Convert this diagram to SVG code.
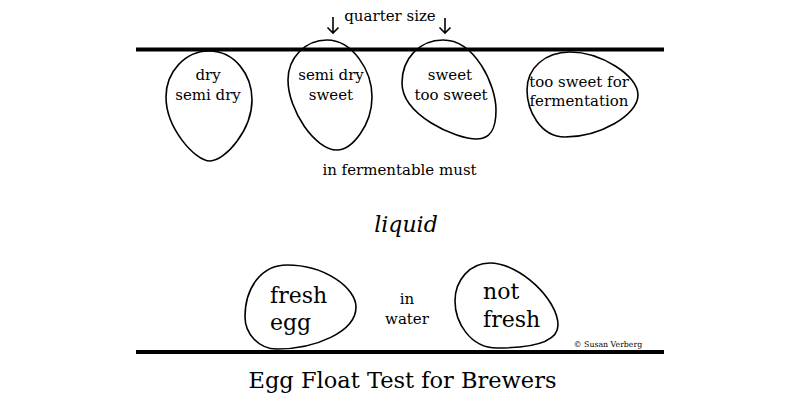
<svg xmlns="http://www.w3.org/2000/svg" width="800" height="408" viewBox="0 0 800 408">
<style>
.egg{fill:none;stroke:#000;stroke-width:1.6}
.bar{stroke:#000;stroke-width:4}
text{font-family:"DejaVu Serif","Liberation Serif",serif;fill:#000;text-anchor:middle}
.s{font-size:15px}
.b{font-size:22px;text-anchor:start}
.arr{fill:none;stroke:#000;stroke-width:1.6}
</style>
<rect width="800" height="408" fill="#fff"/>
<line class="bar" x1="136" y1="49.5" x2="664" y2="49.5"/>
<line class="bar" x1="136" y1="352" x2="664" y2="352"/>
<text class="s" x="390" y="21">quarter size</text>
<g id="connectors">
<path class="arr" d="M333,17 V33 M327.5,27.5 L333,33 L338.5,27.5"/>
<path class="arr" d="M445,18 V33 M439.5,27.5 L445,33 L450.5,27.5"/>
</g>
<g id="egg-dry">
<path class="egg" d="M209,51 C235,51 252,75 252,100 C252,130 225,161 210,161 C195,161 166,128 166,97 C166,72 185,51 209,51 Z"/>
<text class="s" x="208" y="80">dry</text>
<text class="s" x="208" y="100">semi dry</text>
</g>
<g id="egg-semidry">
<path class="egg" d="M327,40 C352,40 372,70 372,97 C372,125 352,150 337,150 C315,150 288,110 288,80 C288,58 305,40 327,40 Z"/>
<text class="s" x="331" y="80">semi dry</text>
<text class="s" x="331" y="100">sweet</text>
</g>
<g id="egg-sweet">
<path class="egg" d="M443,40 C475,40 496,85 496,110 C496,130 490,139 477,139 C455,139 402,115 402,83 C402,58 420,40 443,40 Z"/>
<text class="s" x="450" y="80">sweet</text>
<text class="s" x="451" y="100">too sweet</text>
</g>
<g id="egg-toosweet">
<path class="egg" d="M570,52 C600,52 638,75 638,95 C638,115 600,137 565,137 C540,137 527,110 527,90 C527,68 545,52 570,52 Z"/>
<text class="s" x="579" y="87">too sweet for</text>
<text class="s" x="579" y="106">fermentation</text>
</g>
<text class="s" x="399.5" y="175">in fermentable must</text>
<text x="406" y="232" font-size="22" font-style="italic">liquid</text>
<g id="egg-fresh">
<path class="egg" d="M287,265 C325,265 356,288 356,307 C356,332 315,349 277,349 C258,349 245,333 245,317 C245,287 262,265 287,265 Z"/>
<text class="b" x="270" y="302.5">fresh</text>
<text class="b" x="270" y="330">egg</text>
</g>
<text class="s" x="407" y="304">in</text>
<text class="s" x="407" y="324">water</text>
<g id="egg-notfresh">
<path class="egg" d="M490,263 C520,263 558,300 558,325 C558,343 530,348 497,348 C470,348 455,322 455,301 C455,280 470,263 490,263 Z"/>
<text class="b" x="483" y="298.5">not</text>
<text class="b" x="483" y="327">fresh</text>
</g>
<text x="608" y="347" font-size="7.8">© Susan Verberg</text>
<text x="402.5" y="388" font-size="22.5">Egg Float Test for Brewers</text>
</svg>
